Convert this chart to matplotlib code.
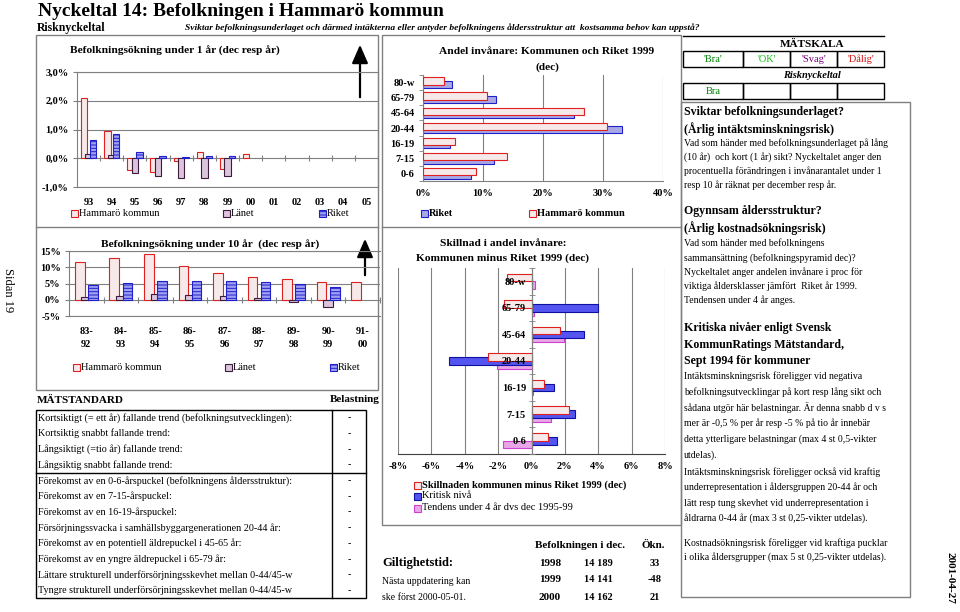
import matplotlib.pyplot as plt
import numpy as np
from matplotlib.patches import Rectangle

plt.rcParams['font.family'] = ['Liberation Serif', 'DejaVu Serif']
plt.rcParams['hatch.linewidth'] = 0.7

W, H = 960, 612

# --- data -------------------------------------------------------------
years = ['93', '94', '95', '96', '97', '98', '99', '00', '01', '02', '03', '04', '05']
ham_1yr = [2.08, 0.95, -0.41, -0.48, -0.10, 0.23, -0.37, 0.15]
lan_1yr = [0.16, 0.13, -0.52, -0.63, -0.70, -0.68, -0.61]
rik_1yr = [0.63, 0.83, 0.22, 0.08, 0.05, 0.08, 0.08]

periods = ['83-\n92', '84-\n93', '85-\n94', '86-\n95', '87-\n96', '88-\n97', '89-\n98', '90-\n99', '91-\n00']
ham_10yr = [11.6, 12.8, 14.0, 10.5, 8.2, 7.0, 6.4, 5.6, 5.4]
lan_10yr = [1.0, 1.3, 1.8, 1.6, 1.3, 0.5, -0.6, -2.2]
rik_10yr = [4.4, 5.1, 5.7, 5.7, 5.7, 5.4, 4.9, 3.9]

ages = ['0-6', '7-15', '16-19', '20-44', '45-64', '65-79', '80-w']
ham_share = [8.8, 14.0, 5.3, 30.7, 26.8, 10.7, 3.5]
rik_share = [8.0, 11.8, 4.5, 33.2, 25.2, 12.2, 4.9]

diff_1999 = [0.96, 2.24, 0.76, -2.6, 1.7, -1.64, -1.44]
crit_level = [1.54, 2.6, 1.36, -4.96, 3.16, 3.96, 0.0]
trend_4yr = [-1.7, 1.14, 0.1, -2.04, 1.96, 0.15, 0.2]

standard_rows = [
    'Kortsiktigt (= ett år) fallande trend (befolkningsutvecklingen):',
    'Kortsiktig snabbt fallande trend:',
    'Långsiktigt (=tio år) fallande trend:',
    'Långsiktig snabbt fallande trend:',
    'Förekomst av en 0-6-årspuckel (befolkningens åldersstruktur):',
    'Förekomst av en 7-15-årspuckel:',
    'Förekomst av en 16-19-årspuckel:',
    'Försörjningssvacka i samhällsbyggargenerationen 20-44 år:',
    'Förekomst av en potentiell äldrepuckel i 45-65 år:',
    'Förekomst av en yngre äldrepuckel i 65-79 år:',
    'Lättare strukturell underförsörjningsskevhet mellan 0-44/45-w',
    'Tyngre strukturell underförsörjningsskevhet mellan 0-44/45-w',
]
standard_vals = ['-'] * 12

pop_years = ['1998', '1999', '2000']
pop_dec = ['14 189', '14 141', '14 162']
pop_inc = ['33', '-48', '21']

# colours
GRAY = '#808080'
RED = '#e02020'
HAM_FC = '#f6e9e9'
LAN_FC = '#dcc4dc'
LAN_EC = '#3c1c3c'
BLUE = '#2020c8'
RIK_FC = '#a0a0f2'

fig = plt.figure(figsize=(9.6, 6.12), dpi=100)
bg = fig.add_axes([0, 0, 1, 1])
bg.set_xlim(0, W)
bg.set_ylim(H, 0)
bg.axis('off')


def add_ax(x0, y0, x1, y1):
    ax = fig.add_axes([x0 / W, 1 - y1 / H, (x1 - x0) / W, (y1 - y0) / H])
    ax.set_facecolor('none')
    return ax


def box(x0, y0, x1, y1, color=GRAY, lw=1.0):
    bg.add_patch(Rectangle((x0, y0), x1 - x0, y1 - y0, fill=False, ec=color, lw=lw))


def txt(x, y, s, size=7, **kw):
    kw.setdefault('va', 'center')
    bg.text(x, y, s, fontsize=size, **kw)


def leg(x, y, fc, ec, hatch, label, size=7.5, **kw):
    bg.add_patch(Rectangle((x - 3.5, y - 3.5), 7, 7, fc=fc, ec=ec, hatch=hatch, lw=0.8))
    txt(x + 5, y, label, size, **kw)


def arrow(x, y0, y1):
    bg.annotate('', xy=(x, y1), xytext=(x, y0),
                arrowprops=dict(arrowstyle='-|>,head_width=0.35,head_length=0.8',
                                lw=1.6, color='black', mutation_scale=14))


def style_spines(ax, color=GRAY):
    for sp in ax.spines.values():
        sp.set_color(color)
        sp.set_linewidth(0.8)


# --- header -------------------------------------------------------------
txt(38, 12, 'Nyckeltal 14: Befolkningen i Hammarö kommun', 14, weight='bold')
txt(37, 28, 'Risknyckeltal', 8.5, weight='bold')
txt(185, 28, 'Sviktar befolkningsunderlaget och därmed intäkterna eller antyder '
    'befolkningens åldersstruktur att  kostsamma behov kan uppstå?', 6.8,
    weight='bold', style='italic')
txt(8, 290, 'Sidan 19', 9, rotation=270, ha='center')
txt(950, 578, '2001-04-27', 8, rotation=270, ha='center', weight='bold')

# frames
box(36, 35, 378, 390)
bg.plot([36, 378], [227, 227], color=GRAY, lw=1)
box(382, 35, 681, 525)
bg.plot([382, 681], [227, 227], color=GRAY, lw=1)
box(681, 102, 910, 597)
bg.plot([683, 884], [36, 36], color='black', lw=1)

w, s = 0.28, 0.19

# --- chart 1: 1 year growth -----------------------------------------------
ax1 = add_ax(77, 72, 378, 187)
x = np.arange(len(years))
ax1.bar(x[:len(ham_1yr)] - s, ham_1yr, w, fc=HAM_FC, ec=RED, lw=0.8, zorder=2)
ax1.bar(x[:len(lan_1yr)], lan_1yr, w, fc=LAN_FC, ec=LAN_EC, lw=0.8, zorder=3)
ax1.bar(x[:len(rik_1yr)] + s, rik_1yr, w, fc=RIK_FC, ec=BLUE, hatch='-----', lw=0.8, zorder=4)
ax1.set_xlim(-0.5, len(years) - 0.5)
ax1.set_ylim(-1, 3)
yt = np.arange(-1, 4)
ax1.set_yticks(yt)
ax1.set_yticklabels([f'{v:.1f}%'.replace('.', ',') for v in yt], fontweight='bold')
ax1.set_xticks(x)
ax1.set_xticklabels(years, fontweight='bold')
ax1.tick_params(axis='x', length=0, pad=8, labelsize=7.5)
ax1.tick_params(axis='y', length=3, color=GRAY, pad=3, labelsize=7.5)
ax1.yaxis.grid(True, color=GRAY, lw=0.8)
ax1.set_axisbelow(True)
bnd = np.arange(-0.5, len(years))
ax1.plot(bnd, np.zeros_like(bnd), ls='none', marker='|', ms=5, mew=0.8, color=GRAY, zorder=1)
style_spines(ax1)
txt(175, 51, 'Befolkningsökning under 1 år (dec resp år)', 8.2, weight='bold', ha='center')
arrow(360, 100, 42)
leg(74, 213, HAM_FC, RED, None, 'Hammarö kommun')
leg(226, 213, LAN_FC, LAN_EC, None, 'Länet')
leg(322, 213, RIK_FC, BLUE, '-----', 'Riket')

# --- chart 2: 10 year growth ---------------------------------------------
ax2 = add_ax(69, 251, 380, 316)
x = np.arange(len(periods))
ax2.bar(x[:len(ham_10yr)] - s, ham_10yr, w, fc=HAM_FC, ec=RED, lw=0.8, zorder=2)
ax2.bar(x[:len(lan_10yr)], lan_10yr, w, fc=LAN_FC, ec=LAN_EC, lw=0.8, zorder=3)
ax2.bar(x[:len(rik_10yr)] + s, rik_10yr, w, fc=RIK_FC, ec=BLUE, hatch='-----', lw=0.8, zorder=4)
ax2.set_xlim(-0.5, len(periods) - 0.5)
ax2.set_ylim(-5, 15)
yt = np.arange(-5, 16, 5)
ax2.set_yticks(yt)
ax2.set_yticklabels([f'{v}%' for v in yt], fontweight='bold')
ax2.set_xticks(x)
ax2.set_xticklabels(periods, fontweight='bold', linespacing=1.6)
ax2.tick_params(axis='x', length=0, pad=8, labelsize=7.5)
ax2.tick_params(axis='y', length=3, color=GRAY, pad=3, labelsize=7.5)
ax2.yaxis.grid(True, color=GRAY, lw=0.8)
ax2.set_axisbelow(True)
bnd = np.arange(-0.5, len(periods))
ax2.plot(bnd, np.zeros_like(bnd), ls='none', marker='|', ms=5, mew=0.8, color=GRAY, zorder=1)
style_spines(ax2)
ax2.spines['right'].set_visible(False)
txt(210, 245, 'Befolkningsökning under 10 år  (dec resp år)', 8.2, weight='bold', ha='center')
arrow(365, 278, 236)
leg(76, 367, HAM_FC, RED, None, 'Hammarö kommun')
leg(228, 367, LAN_FC, LAN_EC, None, 'Länet')
leg(333, 367, RIK_FC, BLUE, '-----', 'Riket')

# --- chart 3: age shares ----------------------------------------------------
ax3 = add_ax(423, 75, 663, 181)
y = np.arange(len(ages))
ax3.barh(y - 0.11, rik_share, 0.48, fc='#a8a8e6', ec=BLUE, lw=0.8, zorder=2)
ax3.barh(y + 0.11, ham_share, 0.48, fc=HAM_FC, ec=RED, lw=0.8, zorder=3)
ax3.set_xlim(0, 40)
ax3.set_ylim(-0.5, len(ages) - 0.5)
xt = np.arange(0, 41, 10)
ax3.set_xticks(xt)
ax3.set_xticklabels([f'{v}%' for v in xt], fontweight='bold')
ax3.set_yticks(y)
ax3.set_yticklabels(ages, fontweight='bold')
ax3.set_yticks(np.arange(-0.5, len(ages)), minor=True)
ax3.tick_params(axis='y', which='major', length=0, pad=6, labelsize=7.5)
ax3.tick_params(axis='y', which='minor', length=3, color=GRAY)
ax3.tick_params(axis='x', length=0, pad=6, labelsize=7.5)
ax3.xaxis.grid(True, color=GRAY, lw=0.8)
ax3.set_axisbelow(True)
style_spines(ax3)
ax3.spines['top'].set_visible(False)
ax3.spines['right'].set_visible(False)
txt(547, 51, 'Andel invånare: Kommunen och Riket 1999', 8.2, weight='bold', ha='center')
txt(547, 67, '(dec)', 8.2, weight='bold', ha='center')
leg(424, 213, '#a8a8e6', BLUE, None, 'Riket', weight='bold')
leg(532, 213, HAM_FC, RED, None, 'Hammarö kommun', weight='bold')

# --- chart 4: difference ------------------------------------------------------
ax4 = add_ax(398, 268, 665, 454)
h4, s4 = 0.29, 0.145
ax4.barh(y - s4, trend_4yr, h4, fc='#e8a8e8', ec='#d040d0', lw=0.8, zorder=2)
ax4.barh(y, crit_level, h4, fc='#5454f0', ec='#1010a0', lw=0.8, zorder=3)
ax4.barh(y + s4, diff_1999, h4, fc=HAM_FC, ec=RED, lw=0.8, zorder=4)
ax4.set_xlim(-8, 8)
ax4.set_ylim(-0.5, len(ages) - 0.5)
xt = np.arange(-8, 9, 2)
ax4.set_xticks(xt)
ax4.set_xticklabels([f'{v}%' for v in xt], fontweight='bold')
ax4.tick_params(axis='x', length=0, pad=6, labelsize=7.5)
ax4.xaxis.grid(True, color=GRAY, lw=0.8)
ax4.set_axisbelow(True)
ax4.spines['left'].set_position(('data', 0))
ax4.set_yticks(y)
ax4.set_yticklabels(ages, fontweight='bold')
ax4.set_yticks(np.arange(-0.5, len(ages)), minor=True)
ax4.tick_params(axis='y', which='major', length=0, pad=4, labelsize=7.5)
ax4.tick_params(axis='y', which='minor', length=4, direction='inout', color=GRAY)
ax4.yaxis.set_zorder(6)
style_spines(ax4)
ax4.spines['left'].set_zorder(6)
ax4.spines['bottom'].set_color('#404040')
ax4.spines['top'].set_visible(False)
ax4.spines['right'].set_visible(False)
txt(503, 243, 'Skillnad i andel invånare:', 8.2, weight='bold', ha='center')
txt(503, 258, 'Kommunen minus Riket 1999 (dec)', 8.2, weight='bold', ha='center')
leg(417, 485, HAM_FC, RED, None, 'Skillnaden kommunen minus Riket 1999 (dec)', 7.5, weight='bold')
leg(417, 496, '#5454f0', '#1010a0', None, 'Kritisk nivå', 7.5)
leg(417, 508, '#e8a8e8', '#d040d0', None, 'Tendens under 4 år dvs dec 1995-99', 7.5)

# --- MÄTSTANDARD table ----------------------------------------------------------
txt(37, 400, 'MÄTSTANDARD', 8, weight='bold')
txt(380, 400, 'Belastning', 8, weight='bold', ha='right')
top, row_h = 410, 15.7
box(36, top, 366, top + row_h * len(standard_rows), color='black')
bg.plot([332, 332], [top, top + row_h * len(standard_rows)], color='black', lw=1)
bg.plot([36, 366], [top + 4 * row_h, top + 4 * row_h], color='black', lw=1)
for i, (row, val) in enumerate(zip(standard_rows, standard_vals)):
    yy = top + row_h * (i + 0.5)
    txt(38, yy, row, 7.3)
    txt(349, yy, val, 7.3, ha='center')

# --- population table -------------------------------------------------------------
txt(580, 545, 'Befolkningen i dec.', 8, weight='bold', ha='center')
txt(653, 545, 'Ökn.', 8, weight='bold', ha='center')
txt(382, 563, 'Giltighetstid:', 9, weight='bold')
txt(382, 581, 'Nästa uppdatering kan', 7)
txt(382, 597, 'ske först 2000-05-01.', 7)
for i, (yr, pop, inc) in enumerate(zip(pop_years, pop_dec, pop_inc)):
    yy = 563 + 17 * i
    txt(550, yy, yr, 8, weight='bold', ha='center')
    txt(598, yy, pop, 7.5, weight='bold', ha='center')
    txt(655, yy, inc, 7.5, weight='bold', ha='center')

# --- MÄTSKALA ------------------------------------------------------------------------
txt(812, 44, 'MÄTSKALA', 8, weight='bold', ha='center')
cells = [683, 743, 790, 837, 884]
scale_lbl = ["'Bra'", "'OK'", "'Svag'", "'Dålig'"]
scale_col = ['#008000', '#10c010', '#800080', '#d01010']
for i in range(4):
    box(cells[i], 51, cells[i + 1], 67, color='black')
    box(cells[i], 83, cells[i + 1], 99, color='black')
    txt((cells[i] + cells[i + 1]) / 2, 59, scale_lbl[i], 7.5, ha='center', color=scale_col[i])
txt(812, 75, 'Risknyckeltal', 7.5, weight='bold', style='italic', ha='center')
txt(713, 91, 'Bra', 7.5, ha='center', color='#008000')

# --- right-hand text --------------------------------------------------------------------
heads = [
    (112, 'Sviktar befolkningsunderlaget?'),
    (129, '(Årlig intäktsminskningsrisk)'),
    (211, 'Ogynnsam åldersstruktur?'),
    (228, '(Årlig kostnadsökningsrisk)'),
    (328, 'Kritiska nivåer enligt Svensk'),
    (345, 'KommunRatings Mätstandard,'),
    (361, 'Sept 1994 för kommuner'),
]
for yy, s_ in heads:
    txt(684, yy, s_, 8.6, weight='bold')
body = [
    (143, 'Vad som händer med befolkningsunderlaget på lång'),
    (157, '(10 år)  och kort (1 år) sikt? Nyckeltalet anger den'),
    (171, 'procentuella förändringen i invånarantalet under 1'),
    (185, 'resp 10 år räknat per december resp år.'),
    (243, 'Vad som händer med befolkningens'),
    (258, 'sammansättning (befolkningspyramid dec)?'),
    (272, 'Nyckeltalet anger andelen invånare i proc för'),
    (286, 'viktiga åldersklasser jämfört  Riket år 1999.'),
    (300, 'Tendensen under 4 år anges.'),
    (376, 'Intäktsminskningsrisk föreligger vid negativa'),
    (392, 'befolkningsutvecklingar på kort resp lång sikt och'),
    (408, 'sådana utgör här belastningar. Är denna snabb d v s'),
    (423, 'mer är -0,5 % per år resp -5 % på tio år innebär'),
    (439, 'detta ytterligare belastningar (max 4 st 0,5-vikter'),
    (455, 'utdelas).'),
    (472, 'Intäktsminskningsrisk föreligger också vid kraftig'),
    (487, 'underrepresentation i åldersgruppen 20-44 år och'),
    (503, 'lätt resp tung skevhet vid underrepresentation i'),
    (518, 'åldrarna 0-44 år (max 3 st 0,25-vikter utdelas).'),
    (543, 'Kostnadsökningsrisk föreligger vid kraftiga pucklar'),
    (557, 'i olika åldersgrupper (max 5 st 0,25-vikter utdelas).'),
]
for yy, s_ in body:
    txt(684, yy, s_, 7)

fig.savefig('out.png', dpi=100)
